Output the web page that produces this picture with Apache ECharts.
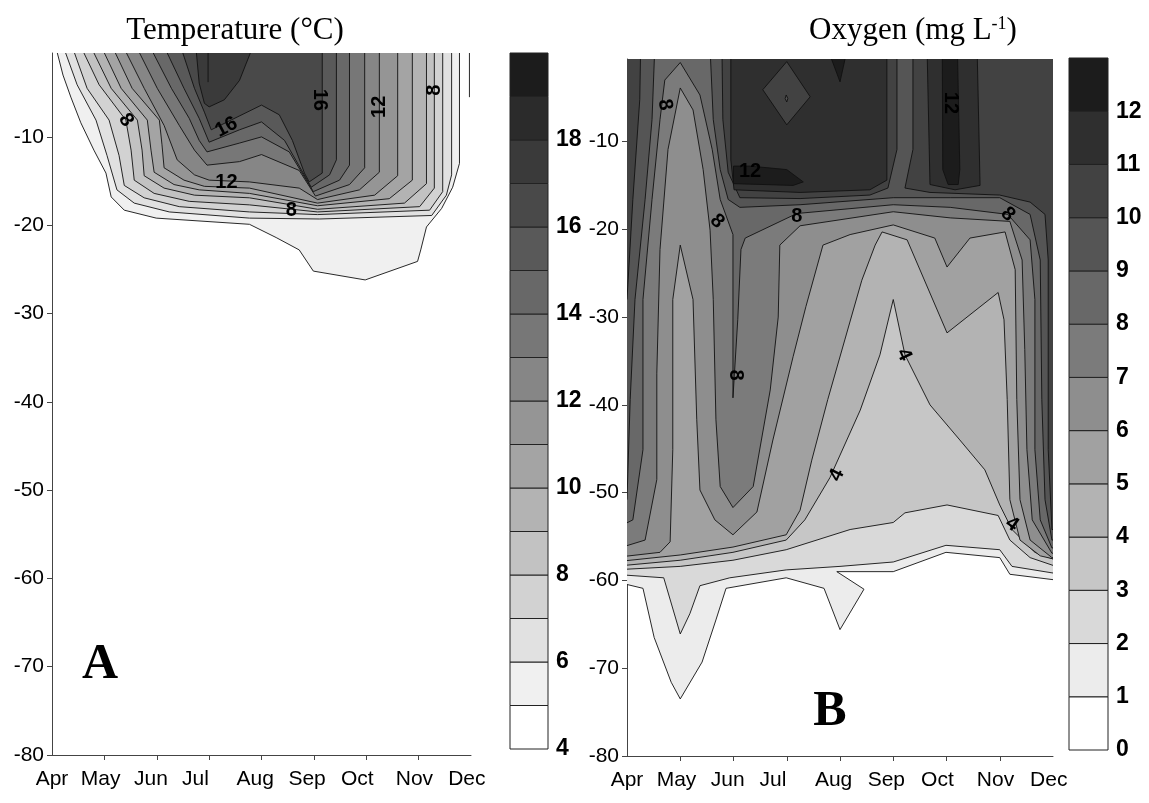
<!DOCTYPE html>
<html>
<head>
<meta charset="utf-8">
<script src="https://cdn.jsdelivr.net/npm/echarts@6/dist/echarts.min.js"></script>
<style>
  html, body { margin: 0; padding: 0; background: #ffffff; }
  #chart { width: 1149px; height: 803px; }
</style>
</head>
<body>
<div id="chart"></div>
<script>
// ---- axis values -------------------------------------------------------
// x runs from Apr (0) to Dec (8); y is depth (m), negative downwards
const months = ['Apr', 'May', 'Jun', 'Jul', 'Aug', 'Sep', 'Oct', 'Nov', 'Dec'];
const depthTicks = [-10, -20, -30, -40, -50, -60, -70, -80];
const tempScaleTicks = [4, 6, 8, 10, 12, 14, 16, 18];
const oxyScaleTicks = [0, 1, 2, 3, 4, 5, 6, 7, 8, 9, 10, 11, 12];
const tempBands = [4, 5, 6, 7, 8, 9, 10, 11, 12, 13, 14, 15, 16, 17, 18, 19];
const oxyBands = [0, 1, 2, 3, 4, 5, 6, 7, 8, 9, 10, 11, 12];

// ---- temperature isotherms: region where T >= level, [month, depth] ----
const tempL5 = [[0.08,0],[0.21,-3.0],[0.36,-5.5],[0.55,-8.4],[0.80,-11.5],[1.03,-14.1],[1.13,-16.8],[1.38,-18.3],[1.99,-19.2],[3.77,-19.9],[4.28,-21.4],[4.72,-22.8],[4.99,-25.2],[5.98,-26.2],[6.98,-24.1],[7.04,-22.8],[7.15,-20.2],[7.44,-18.1],[7.65,-15.7],[7.78,-13.0],[7.78,0]];
const tempL6 = [[0.23,0],[0.48,-4.1],[0.84,-8.1],[1.05,-12.1],[1.24,-16.0],[1.57,-17.5],[2.24,-18.5],[3.77,-19.2],[5.11,-19.3],[7.25,-18.9],[7.53,-16.6],[7.63,-14.3],[7.63,0]];
const tempL7 = [[0.40,0],[0.67,-4.5],[1.09,-8.1],[1.28,-12.1],[1.38,-15.5],[1.76,-16.9],[2.43,-17.9],[3.77,-18.5],[5.07,-18.8],[7.21,-18.3],[7.46,-16.2],[7.46,0]];
const tempL8 = [[0.57,0],[0.90,-4.1],[1.41,-8.1],[1.51,-11.5],[1.57,-14.9],[1.95,-16.4],[2.62,-17.3],[3.77,-17.7],[5.07,-18.5],[7.02,-17.9],[7.30,-15.8],[7.30,0]];
const tempL9 = [[0.76,0],[1.13,-4.5],[1.63,-8.1],[1.72,-11.5],[1.76,-14.4],[2.14,-15.8],[2.72,-16.6],[3.77,-16.9],[5.07,-18.2],[6.73,-17.5],[7.15,-15.3],[7.15,0]];
const tempL10 = [[0.96,0],[1.32,-4.5],[1.82,-8.1],[1.89,-11.5],[1.95,-14.0],[2.33,-15.4],[2.81,-16.0],[3.77,-16.4],[5.07,-17.8],[6.44,-17.0],[6.88,-14.9],[6.88,0]];
const tempL11 = [[1.17,0],[1.53,-4.5],[2.05,-8.1],[2.10,-10.9],[2.14,-13.5],[2.52,-14.9],[2.91,-15.6],[3.77,-15.8],[5.07,-17.5],[6.16,-16.6],[6.60,-14.4],[6.60,0]];
const tempL12 = [[1.38,0],[1.76,-4.5],[2.14,-8.7],[2.39,-12.6],[2.72,-14.3],[3.00,-14.9],[3.77,-15.1],[4.72,-15.8],[5.07,-17.1],[5.87,-16.0],[6.25,-14.0],[6.25,0]];
const tempL13 = [[1.63,0],[2.01,-4.5],[2.43,-8.7],[2.72,-11.5],[2.96,-13.2],[3.58,-12.8],[4.00,-12.0],[4.72,-13.8],[5.03,-16.7],[5.68,-15.4],[5.97,-13.5],[5.97,0]];
const tempL14 = [[1.89,0],[2.28,-4.5],[2.62,-7.9],[2.81,-10.4],[2.96,-11.7],[3.58,-10.7],[4.00,-10.0],[4.53,-11.7],[4.99,-16.2],[5.49,-14.9],[5.68,-13.2],[5.68,0]];
const tempL15 = [[2.16,0],[2.52,-4.5],[2.81,-7.9],[3.00,-10.6],[3.58,-9.2],[4.00,-8.3],[4.44,-10.4],[4.95,-15.7],[5.30,-14.3],[5.43,-12.6],[5.43,0]];
const tempL16 = [[2.47,0],[2.72,-4.5],[2.91,-7.2],[3.04,-9.2],[4.00,-6.4],[4.34,-7.5],[4.59,-10.4],[4.82,-14.1],[4.91,-15.1],[5.16,-14.1],[5.16,0]];
const tempL17 = [[2.75,0],[2.81,-3.9],[2.91,-6.2],[3.00,-6.6],[3.29,-5.8],[3.58,-3.6],[3.82,0]];
// open isotherm fragments near the surface
const tempOpenLines = [
  [[2.98,0],[2.98,-3.8]],
  [[7.97,0],[7.97,-5.5]]
];
// isotherm labels: [month, depth, text, rotation in degrees]
const tempLabels = [
  [1.41,-8.1,'8',-55],
  [3.33,-8.9,'16',28],
  [3.33,-15.2,'12',0],
  [4.57,-18.3,'8',0],
  [5.11,-5.8,'16',-90],
  [6.25,-6.6,'12',90],
  [7.30,-4.7,'8',90]
];

// ---- oxygen isopleths: region where O2 >= level, [month, depth] ----------
const oxyL1 = [[-0.25,2],[-0.25,-60.1],[0.30,-60.9],[0.51,-66.5],[0.83,-71.6],[1.00,-73.5],[1.41,-69.3],[1.67,-64.5],[1.86,-60.9],[2.99,-59.7],[3.70,-60.9],[4.00,-65.6],[4.45,-61.0],[3.94,-59.0],[5.00,-59.0],[5.99,-56.8],[7.00,-57.4],[7.19,-59.3],[8.25,-60.1],[8.25,2]];
const oxyL2 = [[-0.25,2],[-0.25,-59.3],[0.69,-59.7],[1.00,-66.1],[1.18,-63.8],[1.37,-60.6],[1.93,-59.7],[2.99,-58.8],[4.00,-58.4],[5.00,-57.9],[5.99,-56.0],[7.00,-56.5],[7.23,-58.4],[8.25,-59.4],[8.25,2]];
const oxyL3 = [[-0.25,2],[-0.25,-58.8],[1.00,-58.4],[1.99,-57.7],[2.99,-56.5],[4.19,-54.2],[5.00,-53.4],[5.22,-52.3],[6.01,-51.4],[6.97,-52.6],[7.19,-55.4],[7.57,-57.4],[8.25,-58.8],[8.25,2]];
const oxyL4 = [[-0.25,2],[-0.25,-58.4],[1.00,-57.7],[1.99,-56.8],[2.99,-55.4],[3.34,-53.1],[3.81,-48.3],[4.38,-40.6],[4.75,-34.3],[5.00,-28.0],[5.22,-34.3],[5.69,-40.0],[6.25,-44.0],[6.72,-47.4],[7.00,-51.4],[7.23,-54.2],[7.66,-56.8],[8.25,-58.1],[8.25,2]];
const oxyL5 = [[-0.25,2],[-0.25,-57.9],[1.00,-57.1],[1.99,-56.2],[2.99,-54.8],[3.25,-52.0],[3.47,-46.3],[3.77,-39.4],[4.09,-32.6],[4.41,-25.8],[4.66,-21.8],[4.79,-20.3],[5.26,-21.2],[6.01,-31.8],[6.97,-27.2],[7.08,-30.3],[7.14,-39.4],[7.19,-50.8],[7.38,-55.4],[7.76,-57.2],[8.25,-57.9],[8.25,2]];
const oxyL6 = [[-0.25,2],[-0.25,-57.4],[0.62,-56.8],[0.81,-55.6],[0.86,-45.1],[0.86,-28.0],[1.00,-21.8],[1.24,-28.0],[1.31,-41.7],[1.37,-49.7],[1.65,-53.1],[1.99,-54.8],[2.44,-52.2],[2.74,-44.0],[3.12,-34.5],[3.36,-28.8],[3.68,-21.8],[4.19,-20.6],[5.00,-19.5],[5.78,-21.0],[6.01,-24.3],[6.44,-21.0],[7.10,-20.3],[7.29,-24.6],[7.32,-39.4],[7.38,-50.8],[7.57,-55.4],[7.98,-57.4],[8.25,-57.4],[8.25,2]];
const oxyL7 = [[-0.25,2],[-0.25,-56.5],[0.34,-55.4],[0.56,-48.5],[0.56,-36.4],[0.62,-22.3],[0.77,-10.9],[1.00,-3.9],[1.24,-6.4],[1.43,-13.2],[1.56,-20.1],[1.62,-28.0],[1.67,-41.7],[1.75,-49.3],[1.99,-51.7],[2.37,-49.3],[2.69,-38.3],[2.84,-30.0],[2.87,-21.8],[3.25,-19.6],[5.00,-18.0],[6.07,-18.7],[7.19,-19.1],[7.42,-23.5],[7.47,-33.7],[7.51,-45.1],[7.61,-53.1],[7.98,-56.9],[8.25,-56.9],[8.25,2]];
const oxyL8 = [[-0.25,2],[-0.25,-54.2],[0.11,-53.1],[0.30,-45.1],[0.30,-28.0],[0.47,-16.6],[0.62,-7.5],[0.71,-3.0],[1.00,-1.0],[1.37,-4.7],[1.60,-10.9],[1.75,-16.6],[1.99,-20.6],[1.99,-39.2],[2.08,-30.3],[2.14,-22.3],[2.22,-21.0],[3.19,-18.2],[5.00,-17.2],[6.07,-17.5],[7.15,-18.3],[7.57,-21.2],[7.66,-28.0],[7.66,-45.1],[7.76,-53.1],[7.98,-56.3],[8.25,-56.3],[8.25,2]];
const oxyL9 = [[-0.25,2],[-0.25,-50.8],[0,-50.8],[0.06,-39.4],[0.15,-28.0],[0.34,-16.6],[0.47,-7.5],[0.53,2],[1.55,2],[1.62,-7.5],[1.75,-13.2],[1.90,-16.6],[2.12,-17.5],[3.25,-17.2],[5.00,-16.4],[6.07,-16.4],[7.00,-16.4],[7.57,-18.3],[7.76,-23.5],[7.79,-39.4],[7.85,-50.8],[7.98,-55.4],[8.25,-55.4],[8.25,2]];
const oxyL10a = [[-0.25,2],[-0.25,-28.0],[0,-28.0],[0.11,-16.6],[0.24,-5.2],[0.26,2]];
const oxyL10b = [[1.78,2],[1.80,-7.5],[1.90,-13.5],[2.12,-16.4],[3.25,-16.5],[4.56,-16.1],[4.90,-15.3],[5.07,-10.9],[5.07,2]];
const oxyL10c = [[5.37,2],[5.37,-10.9],[5.22,-15.3],[5.69,-15.8],[7.00,-16.1],[7.57,-16.9],[7.85,-18.3],[7.91,-23.5],[7.91,-45.1],[7.98,-54.2],[8.25,-54.2],[8.25,2]];
const oxyL11a = [[1.95,2],[1.95,-12.1],[2.01,-15.5],[3.25,-15.8],[4.56,-15.5],[4.88,-14.4],[4.88,2]];
const oxyL11b = [[5.63,2],[5.69,-14.9],[6.16,-15.5],[6.63,-15.0],[6.57,2]];
const oxyLow11 = [[3.00,-0.9],[2.55,-4.1],[3.00,-8.1],[3.44,-4.9]];
const oxyLow10 = [[2.99,-4.7],[2.97,-5.1],[3.00,-5.5],[3.02,-5.1]];
const oxyL12a = [[2.00,-12.8],[2.00,-14.8],[3.12,-15.0],[3.31,-14.6],[3.00,-13.2],[2.31,-12.8]];
const oxyL12b = [[3.68,2],[4.00,-3.2],[4.19,2]];
const oxyL12c = [[5.92,2],[5.93,-13.2],[6.03,-14.9],[6.22,-14.9],[6.25,-13.2],[6.20,2]];
const oxyLabels = [
  [0.71,-5.8,'8',-80],
  [2.31,-13.4,'12',0],
  [1.69,-19.1,'8',-45],
  [3.19,-18.5,'8',0],
  [6.07,-5.6,'12',-90],
  [7.15,-18.3,'8',-45],
  [2.03,-36.6,'8',-90],
  [5.20,-34.3,'4',-65],
  [3.94,-48.0,'4',65],
  [7.23,-53.6,'4',-35]
];

// ---- drawing order (lower bands first, enclosed lows after) ------------
const tempRegions = [
  [5, tempL5], [6, tempL6], [7, tempL7], [8, tempL8], [9, tempL9], [10, tempL10],
  [11, tempL11], [12, tempL12], [13, tempL13], [14, tempL14], [15, tempL15],
  [16, tempL16], [17, tempL17]
];
const oxyRegions = [
  [1, oxyL1], [2, oxyL2], [3, oxyL3], [4, oxyL4], [5, oxyL5], [6, oxyL6],
  [7, oxyL7], [8, oxyL8], [9, oxyL9], [10, oxyL10a], [10, oxyL10b], [10, oxyL10c],
  [11, oxyL11a], [11, oxyL11b], [10, oxyLow11], [9, oxyLow10],
  [12, oxyL12a], [12, oxyL12b], [12, oxyL12c]
];

// ---- styling helpers ---------------------------------------------------
const SANS = "'Liberation Sans', Arial, Helvetica, sans-serif";
const SERIF = "'Liberation Serif', 'Times New Roman', Times, serif";
const AXIS_COLOR = '#444';
const monthLabelAt = [0, 0.93, 1.89, 2.74, 3.88, 4.87, 5.83, 6.92, 7.92];

function grey(v) {
  const g = Math.max(0, Math.min(255, Math.round(v)));
  return 'rgb(' + g + ',' + g + ',' + g + ')';
}
function tempColor(level) { return grey(255 - (level - 4) * 15.13); }
function oxyColor(level) { return grey(255 - level * 18.9); }

function monthName(v) {
  let best = 0;
  for (let i = 1; i < monthLabelAt.length; i++) {
    if (Math.abs(monthLabelAt[i] - v) < Math.abs(monthLabelAt[best] - v)) best = i;
  }
  return months[best];
}

function regionSeries(regions, colorOf, axisIdx) {
  return {
    type: 'custom',
    xAxisIndex: axisIdx, yAxisIndex: axisIdx,
    clip: true,
    silent: true,
    data: regions.map((r, i) => [r[1][0][0], r[1][0][1], i]),
    renderItem: function (params, api) {
      const reg = regions[params.dataIndex];
      return {
        type: 'polygon',
        shape: { points: reg[1].map(p => api.coord(p)) },
        style: { fill: colorOf(reg[0]), stroke: '#111', lineWidth: 0.9 }
      };
    }
  };
}

function labelSeries(labels, axisIdx) {
  return {
    type: 'custom',
    xAxisIndex: axisIdx, yAxisIndex: axisIdx,
    silent: true,
    z: 5,
    data: labels.map(l => [l[0], l[1]]),
    renderItem: function (params, api) {
      const l = labels[params.dataIndex];
      const p = api.coord([l[0], l[1]]);
      return {
        type: 'text',
        x: p[0], y: p[1],
        rotation: l[3] * Math.PI / 180,
        style: {
          text: l[2], fill: '#000', fontSize: 20, fontWeight: 'bold', fontFamily: SANS,
          align: 'center', verticalAlign: 'middle',
          textAlign: 'center', textVerticalAlign: 'middle'
        }
      };
    }
  };
}

function scaleSeries(bands, colorOf, axisIdx) {
  return {
    type: 'custom',
    xAxisIndex: axisIdx, yAxisIndex: axisIdx,
    silent: true,
    data: bands.map(b => [0, b]),
    renderItem: function (params, api) {
      const b = bands[params.dataIndex];
      const p0 = api.coord([0, b]);
      const p1 = api.coord([1, b + 1]);
      return {
        type: 'rect',
        shape: { x: p0[0], y: p1[1], width: p1[0] - p0[0], height: p0[1] - p1[1] },
        style: { fill: colorOf(b), stroke: '#222', lineWidth: 1 }
      };
    }
  };
}

function mainX(gridIndex) {
  return {
    type: 'value', gridIndex: gridIndex, min: 0, max: 8,
    axisLine: { show: true, onZero: false, lineStyle: { color: AXIS_COLOR, width: 1 } },
    axisTick: { show: true, length: 5, customValues: [1, 2, 3, 4, 5, 6, 7], lineStyle: { color: AXIS_COLOR } },
    axisLabel: {
      customValues: monthLabelAt, formatter: monthName,
      color: '#000', fontSize: 21, fontFamily: SANS, margin: 14
    },
    splitLine: { show: false }
  };
}
function mainY(gridIndex, top) {
  return {
    type: 'value', gridIndex: gridIndex, min: -80, max: top,
    axisLine: { show: true, onZero: false, lineStyle: { color: AXIS_COLOR, width: 1 } },
    axisTick: { show: true, length: 5, customValues: depthTicks, lineStyle: { color: AXIS_COLOR } },
    axisLabel: {
      customValues: depthTicks, formatter: v => String(v),
      color: '#000', fontSize: 21, fontFamily: SANS, margin: 8
    },
    splitLine: { show: false }
  };
}
function scaleX(gridIndex) {
  return { type: 'value', gridIndex: gridIndex, min: 0, max: 1, show: false };
}
function scaleY(gridIndex, lo, hi, ticks) {
  return {
    type: 'value', gridIndex: gridIndex, min: lo, max: hi, position: 'right',
    axisLine: { show: false }, axisTick: { show: false }, splitLine: { show: false },
    axisLabel: {
      customValues: ticks, formatter: v => String(v),
      color: '#000', fontSize: 23, fontWeight: 'bold', fontFamily: SANS, margin: 8
    }
  };
}

const chart = echarts.init(document.getElementById('chart'), null, { renderer: 'canvas' });
chart.setOption({
  animation: false,
  backgroundColor: '#ffffff',
  grid: [
    { left: 52, top: 53, width: 419, height: 702 },
    { left: 627, top: 59, width: 426, height: 697 },
    { left: 510, top: 53, width: 38, height: 696 },
    { left: 1069, top: 58, width: 39, height: 692 }
  ],
  xAxis: [mainX(0), mainX(1), scaleX(2), scaleX(3)],
  yAxis: [
    mainY(0, -0.5),
    mainY(1, -0.6),
    scaleY(2, 4, 20, tempScaleTicks),
    scaleY(3, 0, 13, oxyScaleTicks)
  ],
  graphic: [
    {
      type: 'text', x: 235, y: 31,
      style: { text: 'Temperature (°C)', fill: '#000', fontSize: 31, fontFamily: SERIF,
               align: 'center', verticalAlign: 'middle', textAlign: 'center', textVerticalAlign: 'middle' }
    },
    {
      type: 'text', x: 913, y: 31,
      style: {
        text: 'Oxygen (mg L{sup|-1})', fill: '#000', fontSize: 31, fontFamily: SERIF,
        align: 'center', verticalAlign: 'middle', textAlign: 'center', textVerticalAlign: 'middle',
        rich: { sup: { fontSize: 18, fontFamily: SERIF, fill: '#000', verticalAlign: 'top', lineHeight: 30 } }
      }
    },
    {
      type: 'text', x: 100, y: 665,
      style: { text: 'A', fill: '#000', fontSize: 50, fontWeight: 'bold', fontFamily: SERIF,
               align: 'center', verticalAlign: 'middle', textAlign: 'center', textVerticalAlign: 'middle' }
    },
    {
      type: 'text', x: 830, y: 712,
      style: { text: 'B', fill: '#000', fontSize: 50, fontWeight: 'bold', fontFamily: SERIF,
               align: 'center', verticalAlign: 'middle', textAlign: 'center', textVerticalAlign: 'middle' }
    }
  ],
  series: [
    regionSeries(tempRegions, tempColor, 0),
    {
      type: 'custom', xAxisIndex: 0, yAxisIndex: 0, clip: true, silent: true,
      data: tempOpenLines.map(l => l[0]),
      renderItem: function (params, api) {
        const line = tempOpenLines[params.dataIndex];
        return {
          type: 'polyline',
          shape: { points: line.map(p => api.coord(p)) },
          style: { fill: null, stroke: '#111', lineWidth: 0.9 }
        };
      }
    },
    labelSeries(tempLabels, 0),
    regionSeries(oxyRegions, oxyColor, 1),
    labelSeries(oxyLabels, 1),
    scaleSeries(tempBands, tempColor, 2),
    scaleSeries(oxyBands, oxyColor, 3)
  ]
});
</script>
</body>
</html>
